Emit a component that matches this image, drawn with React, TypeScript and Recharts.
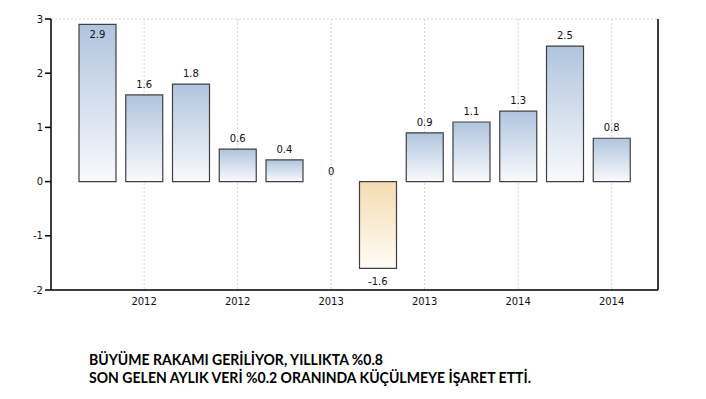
import React from 'react';
import {
  ComposedChart, Bar, Line, XAxis, YAxis, CartesianGrid, Cell, LabelList,
} from 'recharts';

const PERIODS = [
  '2011 Q4', '2012 Q1', '2012 Q2', '2012 Q3', '2012 Q4', '2013 Q1',
  '2013 Q2', '2013 Q3', '2013 Q4', '2014 Q1', '2014 Q2', '2014 Q3',
];
const GROWTH = [2.9, 1.6, 1.8, 0.6, 0.4, 0, -1.6, 0.9, 1.1, 1.3, 2.5, 0.8];
const TICK_PERIODS = ['2012 Q1', '2012 Q3', '2013 Q1', '2013 Q3', '2014 Q1', '2014 Q3'];
const Y_TICKS = [-2, -1, 0, 1, 2, 3];

const data = PERIODS.map((period, i) => ({ period, value: GROWTH[i] }));

const FONT = '"DejaVu Sans", Tahoma, sans-serif';
const tickStyle = { fontSize: 10, fill: '#111', fontFamily: FONT };
const axisLine = { stroke: '#000', strokeWidth: 1.5 };

// labels ride on an invisible line through the bar ends:
// above positive bars, below negative ones, inside when too near the top
const renderLabel = (props: any) => {
  const { x, y, value } = props;
  let ty;
  if (value < 0) ty = y + 17;
  else if (y < 30) ty = y + 14;
  else ty = y - 7;
  return (
    <text x={x} y={ty} textAnchor="middle" fontSize={10} fill="#111" fontFamily={FONT}>
      {value}
    </text>
  );
};

export default function App() {
  return (
    <div style={{ width: 690 }}>
      <ComposedChart width={690} height={320} data={data} margin={{ top: 11, right: 0, bottom: 8, left: 0 }}>
        <defs>
          <linearGradient id="posFill" x1="0" y1="0" x2="0" y2="1">
            <stop offset="0%" stopColor="#b0c4de" />
            <stop offset="100%" stopColor="#f9fafd" />
          </linearGradient>
          <linearGradient id="negFill" x1="0" y1="0" x2="0" y2="1">
            <stop offset="0%" stopColor="#f4dcb2" />
            <stop offset="100%" stopColor="#fffcf6" />
          </linearGradient>
        </defs>
        <CartesianGrid stroke="#d4d4d4" strokeDasharray="2 2" />
        <XAxis
          dataKey="period"
          ticks={TICK_PERIODS}
          interval={0}
          tickFormatter={(p: string) => p.slice(0, 4)}
          tickLine={false}
          axisLine={axisLine}
          tick={tickStyle}
          padding={{ left: 23, right: 23 }}
          height={30}
        />
        <YAxis
          yAxisId="left"
          domain={[-2, 3]}
          ticks={Y_TICKS}
          width={43}
          axisLine={axisLine}
          tickLine={{ stroke: '#000', strokeWidth: 1.5 }}
          tick={tickStyle}
        />
        <YAxis
          yAxisId="right"
          orientation="right"
          domain={[-2, 3]}
          ticks={Y_TICKS}
          width={40}
          axisLine={axisLine}
          tickLine={{ stroke: '#000', strokeWidth: 1.5 }}
          tick={tickStyle}
        />
        <Bar yAxisId="left" dataKey="value" barSize={37} stroke="#404040" strokeWidth={1.2} isAnimationActive={false}>
          {data.map((d) => (
            <Cell key={d.period} fill={d.value < 0 ? 'url(#negFill)' : 'url(#posFill)'} />
          ))}
        </Bar>
        <Line
          yAxisId="left"
          dataKey="value"
          stroke="none"
          dot={false}
          activeDot={false}
          legendType="none"
          isAnimationActive={false}
        >
          <LabelList dataKey="value" content={renderLabel} />
        </Line>
      </ComposedChart>
      <svg width={690} height={62} style={{ display: 'block' }}>
        <text x={81} y={37} fontFamily="Lato, sans-serif" fontWeight="bold" fontSize={15} fill="#000"
          textLength={294} lengthAdjust="spacingAndGlyphs">
          BÜYÜME RAKAMI GERİLİYOR, YILLIKTA %0.8
        </text>
        <text x={81} y={55} fontFamily="Lato, sans-serif" fontWeight="bold" fontSize={15} fill="#000"
          textLength={442} lengthAdjust="spacingAndGlyphs">
          SON GELEN AYLIK VERİ %0.2 ORANINDA KÜÇÜLMEYE İŞARET ETTİ.
        </text>
      </svg>
    </div>
  );
}
